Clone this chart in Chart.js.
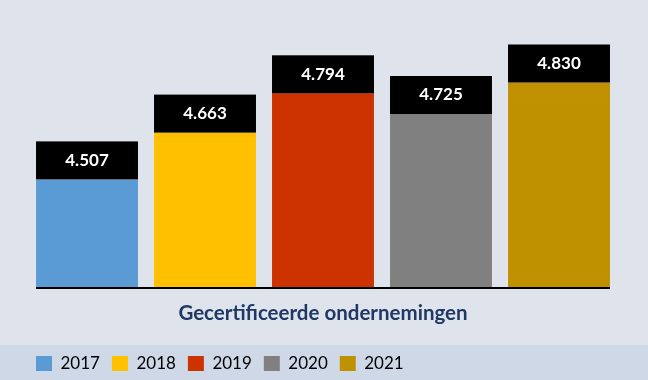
<!DOCTYPE html>
<html>
<head>
<meta charset="utf-8">
<script src="https://cdn.jsdelivr.net/npm/chart.js@4"></script>
<style>
  html, body { margin: 0; padding: 0; background: #dfe4ec; }
  canvas { display: block; }
</style>
</head>
<body>
<canvas id="chart" width="648" height="380"></canvas>
<script>
const years = ['2017', '2018', '2019', '2020', '2021'];
const companies = [4507, 4663, 4794, 4725, 4830];
const barColors = ['#5b9bd5', '#ffc000', '#cc3300', '#808080', '#bf9000'];
const axisTitle = 'Gecertificeerde ondernemingen';

const fmt = v => v.toLocaleString('nl-NL');

// background + legend band
const backdrop = {
  id: 'backdrop',
  beforeDraw(chart) {
    const { ctx, width, height } = chart;
    ctx.save();
    ctx.fillStyle = '#dfe4ec';
    ctx.fillRect(0, 0, width, height);
    ctx.fillStyle = '#cfd8e6';
    ctx.fillRect(0, 345, width, height - 345);
    ctx.restore();
  }
};

// black value boxes on top of the bars and the base line
const valueBoxes = {
  id: 'valueBoxes',
  afterDatasetsDraw(chart) {
    const { ctx, chartArea } = chart;
    const bars = chart.getDatasetMeta(0).data;
    ctx.save();
    bars.forEach((bar, i) => {
      const w = bar.width;
      const left = bar.x - w / 2;
      ctx.fillStyle = '#000';
      ctx.fillRect(left, bar.y - 38, w, 38);
      ctx.fillStyle = '#fff';
      ctx.font = 'bold 17px Lato';
      ctx.textAlign = 'center';
      ctx.textBaseline = 'middle';
      ctx.fillText(fmt(companies[i]), bar.x, bar.y - 19);
    });
    const first = bars[0], last = bars[bars.length - 1];
    ctx.strokeStyle = '#000';
    ctx.lineWidth = 2;
    ctx.beginPath();
    ctx.moveTo(first.x - first.width / 2, chartArea.bottom);
    ctx.lineTo(last.x + last.width / 2, chartArea.bottom);
    ctx.stroke();
    ctx.restore();
  }
};

new Chart(document.getElementById('chart'), {
  type: 'bar',
  data: {
    labels: years,
    datasets: [{
      data: companies,
      backgroundColor: barColors,
      barPercentage: 0.864,
      categoryPercentage: 1
    }]
  },
  options: {
    responsive: false,
    animation: false,
    layout: { padding: { top: 30, left: 24, right: 30, bottom: -2 } },
    plugins: {
      tooltip: { enabled: false },
      legend: {
        position: 'bottom',
        align: 'start',
        labels: {
          boxWidth: 16,
          boxHeight: 15,
          padding: 12,
          color: '#000',
          font: { family: 'Lato', size: 17 },
          generateLabels: () => years.map((y, i) => ({
            text: y,
            fillStyle: barColors[i],
            strokeStyle: barColors[i],
            lineWidth: 0,
            index: i
          }))
        }
      }
    },
    scales: {
      x: {
        grid: { display: false, drawTicks: false },
        border: { display: false },
        ticks: { display: false },
        title: {
          display: true,
          text: axisTitle,
          color: '#1f3864',
          font: { family: 'Lato', size: 20.5, weight: 'bold' },
          padding: { top: 12.7, bottom: 17.7 }
        }
      },
      y: {
        min: 4145,
        max: 5005,
        grid: { display: false, drawTicks: false },
        border: { display: false },
        ticks: { display: false },
        afterFit: scale => { scale.width = 4; }
      }
    }
  },
  plugins: [backdrop, valueBoxes]
});
</script>
</body>
</html>
